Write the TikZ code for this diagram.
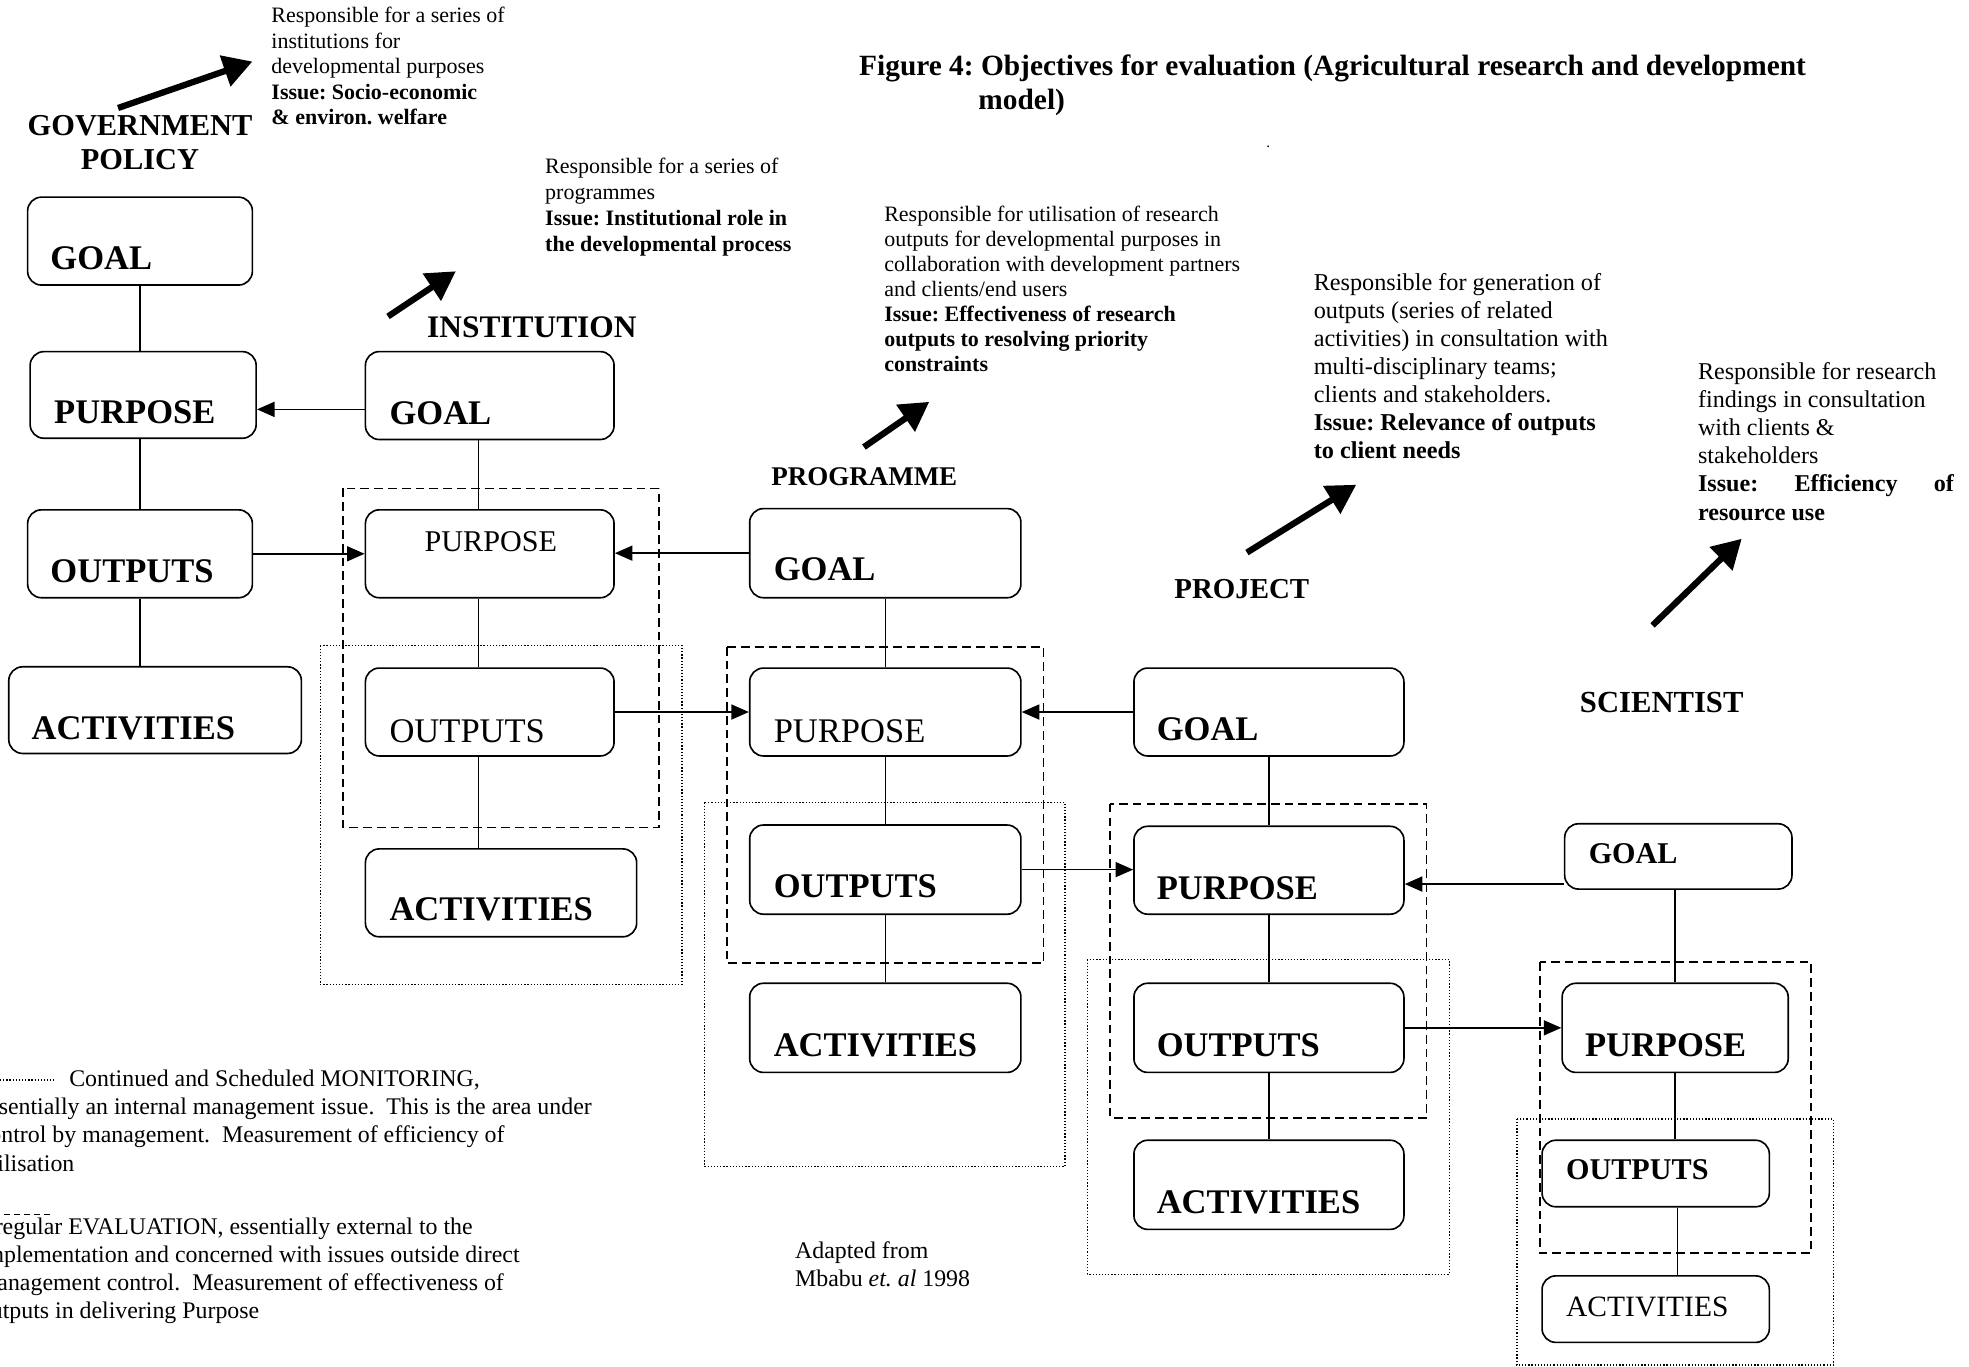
\documentclass[tikz,border=0pt]{standalone}
\usepackage{fontspec}
\setmainfont{Liberation Serif}
\usetikzlibrary{arrows.meta,calc}
\frenchspacing
\newcommand\fsz[2]{\fontsize{#1}{#2}\selectfont}
\newcommand\tstrut{\rule{0pt}{0.9em}}
\tikzset{
  box/.style={draw, line width=1.3pt, rounded corners=11pt, inner sep=0pt},
  lbl/.style={anchor=base west, inner sep=0pt, font=\fsz{27.5}{30}\bfseries},
  lblr/.style={anchor=base west, inner sep=0pt, font=\fsz{27.5}{30}},
  conn/.style={line width=1.2pt},
  arr/.style={line width=1.2pt, -{Triangle[length=14pt,width=12pt]}},
  bigarrow/.style={line width=5pt, -{Triangle[length=23pt,width=25pt]}},
  evalbox/.style={line width=1.5pt, dash pattern=on 7pt off 4pt},
  monbox/.style={line width=1.0pt, dash pattern=on 1pt off 1.5pt},
  txt/.style={anchor=north west, inner sep=0pt, align=left},
  head/.style={anchor=base west, inner sep=0pt, font=\fsz{24}{27}\bfseries},
}
\begin{document}
\begin{tikzpicture}[x=1pt,y=-1pt]
\useasboundingbox (0,0) rectangle (1568,1088);
\clip (0,0) rectangle (1568,1088);
\fill[white] (0,0) rectangle (1568,1088);

% ---------- title ----------
\node[txt, font=\fsz{23.4}{27}\bfseries] (title) at (684,38.9)
  {\tstrut Figure 4: Objectives for evaluation (Agricultural research and development\\
   \hspace*{95pt}model)};
\node[inner sep=0pt, font=\fsz{12}{12}] (dot) at (1010,117) {.};

% ---------- headings ----------
\node[anchor=north, inner sep=0pt, align=center, font=\fsz{24.2}{27}\bfseries] (gov) at (111.5,86.2)
  {\tstrut GOVERNMENT\\POLICY};
\node[head, font=\fsz{25}{27}\bfseries] (inst) at (340,269) {INSTITUTION};
\node[head, font=\fsz{21.5}{24}\bfseries] (prog) at (614,387) {PROGRAMME};
\node[head, font=\fsz{23}{26}\bfseries] (proj) at (935,476.5) {PROJECT};
\node[head, font=\fsz{24.4}{27}\bfseries] (sci) at (1258,567) {SCIENTIST};

% ---------- description blocks ----------
\node[txt, font=\fsz{17.5}{20.3}] (d1) at (216,2.25)
  {\tstrut Responsible for a series of\\
   institutions for\\
   developmental purposes\\
   \textbf{Issue: Socio-economic}\\
   \textbf{\& environ. welfare}};
\node[txt, font=\fsz{17.5}{20.7}] (d2) at (434,122.25)
  {\tstrut Responsible for a series of\\
   programmes\\
   \textbf{Issue: Institutional role in}\\
   \textbf{the developmental process}};
\node[txt, font=\fsz{17.5}{20}] (d3) at (704,160.25)
  {\tstrut Responsible for utilisation of research\\
   outputs for developmental purposes in\\
   collaboration with development partners\\
   and clients/end users\\
   \textbf{Issue: Effectiveness of research}\\
   \textbf{outputs to resolving priority}\\
   \textbf{constraints}};
\node[txt, font=\fsz{19.3}{22.3}] (d4) at (1046,213.6)
  {\tstrut Responsible for generation of\\
   outputs (series of related\\
   activities) in consultation with\\
   multi-disciplinary teams;\\
   clients and stakeholders.\\
   \textbf{Issue: Relevance of outputs}\\
   \textbf{to client needs}};
\node[txt, font=\fsz{19.2}{22.4}] (d5) at (1352,284.7)
  {\tstrut Responsible for research\\
   findings in consultation\\
   with clients \&\\
   stakeholders\\
   \hbox to 204pt{\textbf{Issue:}\hfill\textbf{Efficiency}\hfill\textbf{of}}\\
   \textbf{resource use}};

% ---------- big arrows ----------
\coordinate (ga) at (94,86);   \coordinate (gb) at (201,49);
\coordinate (ia) at (309,252); \coordinate (ib) at (363,216);
\coordinate (pa) at (688,356); \coordinate (pb) at (740,320);
\coordinate (ja) at (993,440); \coordinate (jb) at (1080,386);
\coordinate (sa) at (1316,498); \coordinate (sb) at (1387,429);
\draw[bigarrow] (ga) -- (gb);
\draw[bigarrow] (ia) -- (ib);
\draw[bigarrow] (pa) -- (pb);
\draw[bigarrow] (ja) -- (jb);
\draw[bigarrow] (sa) -- (sb);

% ---------- grouping frames ----------
\draw[evalbox] (273,389) rectangle (525,659);
\draw[monbox]  (255,514) rectangle (543,784);
\draw[evalbox] (579,515) rectangle (831,767);
\draw[monbox]  (561,639) rectangle (848,929);
\draw[evalbox] (884,640) rectangle (1136,890);
\draw[monbox]  (866,764) rectangle (1154,1015);
\draw[evalbox] (1226,766) rectangle (1442,998);
\draw[monbox]  (1208,891) rectangle (1460,1087);

% ---------- boxes ----------
% government policy
\node[box, minimum width=179pt, minimum height=70pt] (G1) at (111.5,192) {};
\node[box, minimum width=180pt, minimum height=69pt] (P1) at (114,314.5) {};
\node[box, minimum width=179pt, minimum height=70pt] (O1) at (111.5,441) {};
\node[box, minimum width=233pt, minimum height=69pt] (A1) at (123.5,565.5) {};
% institution
\node[box, minimum width=198pt, minimum height=70pt] (G2) at (390,315) {};
\node[box, minimum width=198pt, minimum height=70pt] (P2) at (390,441) {};
\node[box, minimum width=198pt, minimum height=70pt] (O2) at (390,567) {};
\node[box, minimum width=216pt, minimum height=70pt] (A2) at (399,711) {};
% programme
\node[box, minimum width=216pt, minimum height=71pt] (G3) at (705,440.5) {};
\node[box, minimum width=216pt, minimum height=70pt] (P3) at (705,567) {};
\node[box, minimum width=216pt, minimum height=71pt] (O3) at (705,692.5) {};
\node[box, minimum width=216pt, minimum height=71pt] (A3) at (705,818.5) {};
% project
\node[box, minimum width=215pt, minimum height=70pt] (G4) at (1010.5,567) {};
\node[box, minimum width=215pt, minimum height=70pt] (P4) at (1010.5,693) {};
\node[box, minimum width=215pt, minimum height=71pt] (O4) at (1010.5,818.5) {};
\node[box, minimum width=215pt, minimum height=71pt] (A4) at (1010.5,943.5) {};
% scientist
\node[box, minimum width=181pt, minimum height=52pt] (G5) at (1336.5,682) {};
\node[box, minimum width=180pt, minimum height=71pt] (P5) at (1334,818.5) {};
\node[box, minimum width=181pt, minimum height=53pt] (O5) at (1318.5,934.5) {};
\node[box, minimum width=181pt, minimum height=53pt] (A5) at (1318.5,1042.5) {};

% ---------- box labels ----------
\node[lbl] (G1t) at (40,215) {GOAL};
\node[lbl] (P1t) at (43,337) {PURPOSE};
\node[lbl] (O1t) at (40,464) {OUTPUTS};
\node[lbl] (A1t) at (25,589) {ACTIVITIES};
\node[lbl] (G2t) at (310,338) {GOAL};
\node[lblr, font=\fsz{24}{27}] (P2t) at (338,439) {PURPOSE};
\node[lblr] (O2t) at (310,591) {OUTPUTS};
\node[lbl] (A2t) at (310,733) {ACTIVITIES};
\node[lbl] (G3t) at (616,462) {GOAL};
\node[lblr] (P3t) at (616,591) {PURPOSE};
\node[lbl] (O3t) at (616,715) {OUTPUTS};
\node[lbl] (A3t) at (616,841) {ACTIVITIES};
\node[lbl] (G4t) at (921,590) {GOAL};
\node[lbl] (P4t) at (921,716) {PURPOSE};
\node[lbl] (O4t) at (921,841) {OUTPUTS};
\node[lbl] (A4t) at (921,966) {ACTIVITIES};
\node[lbl, font=\fsz{24}{27}\bfseries] (G5t) at (1265,687.5) {GOAL};
\node[lbl] (P5t) at (1262,841) {PURPOSE};
\node[lbl, font=\fsz{24}{27}\bfseries] (O5t) at (1247,939) {OUTPUTS};
\node[lblr, font=\fsz{23.5}{27}] (A5t) at (1247,1048) {ACTIVITIES};

% ---------- vertical links ----------
\draw[conn] (G1.south) -- (G1.south |- P1.north);
\draw[conn] (G1.south |- P1.south) -- (G1.south |- O1.north);
\draw[conn] (G1.south |- O1.south) -- (G1.south |- A1.north);
\coordinate (ix) at (381,0);
\draw[conn] (ix |- G2.south) -- (ix |- P2.north);
\draw[conn] (ix |- P2.south) -- (ix |- O2.north);
\draw[conn] (ix |- O2.south) -- (ix |- A2.north);
\draw[conn] (G3.south) -- (P3.north);
\draw[conn] (P3.south) -- (O3.north);
\draw[conn] (O3.south) -- (A3.north);
\draw[conn] (G4.south) -- (P4.north);
\draw[conn] (P4.south) -- (O4.north);
\draw[conn] (O4.south) -- (A4.north);
\draw[conn] (P5.north |- G5.south) -- (P5.north);
\draw[conn] (P5.south) -- (P5.south |- O5.north);
\coordinate (sx) at (1336,0);
\draw[conn] (sx |- O5.south) -- (sx |- A5.north);

% ---------- horizontal arrows ----------
\coordinate (a1s) at ($(G2.west)+(0,11)$);
\draw[arr] (a1s) -- (a1s -| P1.east);
\draw[arr] (O1.east) -- (O1.east -| P2.west);
\draw[arr] (G3.west) -- (G3.west -| P2.east);
\draw[arr] (O2.east) -- (O2.east -| P3.west);
\draw[arr] (G4.west) -- (G4.west -| P3.east);
\draw[arr] (O3.east) -- (O3.east -| P4.west);
\coordinate (a7s) at ($(G5.west)+(0,22)$);
\draw[arr] (a7s) -- (a7s -| P4.east);
\draw[arr] (O4.east) -- (O4.east -| P5.west);

% ---------- legend ----------
\draw[monbox] (-5,860) -- (43,860);
\node[txt, font=\fsz{19}{22.5}] (leg1) at (-17,847.9)
  {\tstrut\hspace*{72pt}Continued and Scheduled MONITORING,\\
   essentially an internal management issue.\ \ This is the area under\\
   control by management.\ \ Measurement of efficiency of\\
   utilisation};
\draw[line width=1.2pt, dash pattern=on 5pt off 3pt] (-5,967) -- (41,967);
\node[txt, font=\fsz{19}{22.3}] (leg2) at (-17,965.9)
  {\tstrut Irregular EVALUATION, essentially external to the\\
   implementation and concerned with issues outside direct\\
   management control.\ \ Measurement of effectiveness of\\
   outputs in delivering Purpose};

\node[txt, font=\fsz{19}{22}] (src) at (633,984.9)
  {\tstrut Adapted from\\ Mbabu \textit{et. al} 1998};
\end{tikzpicture}
\end{document}
